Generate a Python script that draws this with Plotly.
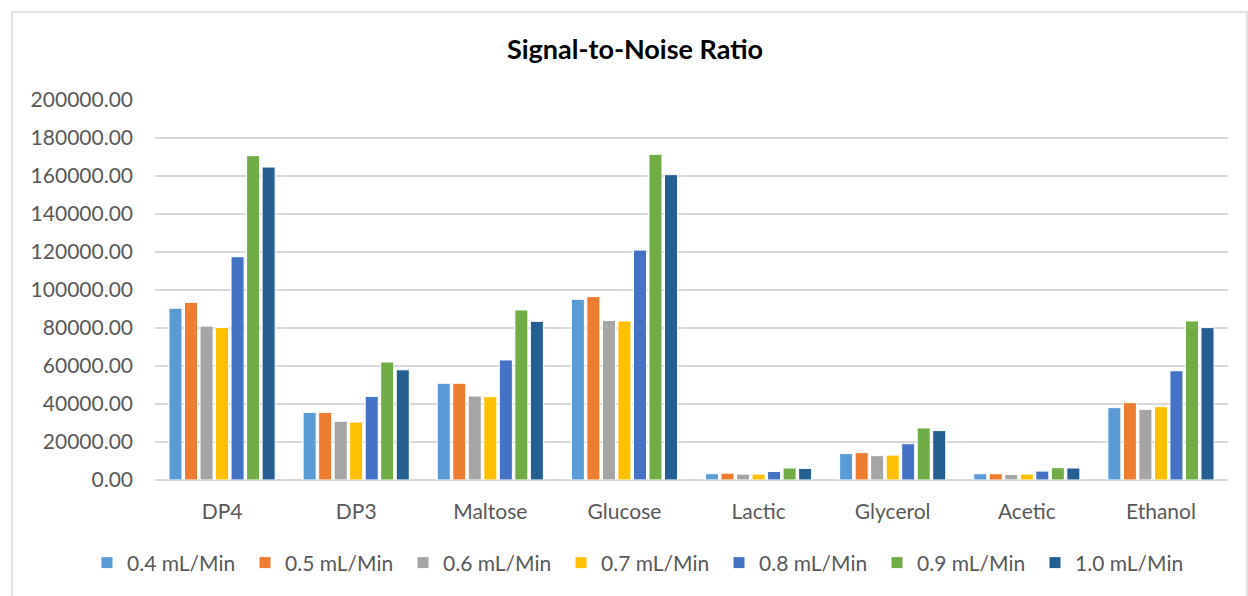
import plotly.graph_objects as go

# Compounds on the x axis
categories = ["DP4", "DP3", "Maltose", "Glucose", "Lactic", "Glycerol", "Acetic", "Ethanol"]

# Signal-to-noise ratio per flow rate
flow_04 = [90400, 35600, 50900, 95100, 3300, 13900, 3300, 38100]
flow_05 = [93500, 35600, 50900, 96500, 3600, 14400, 3300, 40700]
flow_06 = [81000, 30900, 44200, 84000, 3100, 12800, 2900, 37200]
flow_07 = [80300, 30500, 43900, 83700, 3100, 13100, 3100, 38600]
flow_08 = [117500, 44000, 63200, 121000, 4500, 19100, 4700, 57500]
flow_09 = [170700, 62100, 89500, 171400, 6300, 27400, 6500, 83700]
flow_10 = [164700, 58000, 83500, 160700, 6100, 26000, 6300, 80200]

series_names = ["0.4 mL/Min", "0.5 mL/Min", "0.6 mL/Min", "0.7 mL/Min",
                "0.8 mL/Min", "0.9 mL/Min", "1.0 mL/Min"]
series_values = [flow_04, flow_05, flow_06, flow_07, flow_08, flow_09, flow_10]
colors = ["#5B9BD5", "#ED7D31", "#A5A5A5", "#FFC000", "#4472C4", "#70AD47", "#255E91"]

FONT = "Lato"
TEXT = "#595959"

fig = go.Figure()
for name, vals, col in zip(series_names, series_values, colors):
    fig.add_trace(go.Bar(
        x=categories, y=vals, name=name,
        marker=dict(color=col, line=dict(color="white", width=1)),
    ))

W, H = 1248, 596
L, R, T, B = 155, 20, 100, 116
pw, ph = W - L - R, H - T - B

def px_x(p):
    return (p - L) / pw

def px_y(p):
    return (H - B - p) / ph

fig.update_layout(
    width=W, height=H,
    margin=dict(l=L, r=R, t=T, b=B),
    paper_bgcolor="white", plot_bgcolor="white",
    barmode="group", bargap=0.19, bargroupgap=0.16,
    font=dict(family=FONT, color=TEXT, size=19),
    title=dict(text="<b>Signal-to-Noise Ratio</b>", x=635 / W, xanchor="center",
               y=1 - 50 / H, yanchor="middle",
               font=dict(family=FONT, size=27, color="black")),
    xaxis=dict(showgrid=False, showline=False, ticks="", ticklabelstandoff=17,
               tickfont=dict(size=21, color=TEXT)),
    yaxis=dict(range=[0, 200000], dtick=20000, tickformat=".2f",
               showgrid=True, gridcolor="#D9D9D9", gridwidth=1.5,
               zeroline=True, zerolinecolor="#D9D9D9", zerolinewidth=1.5,
               showline=False, ticks="", ticklabelstandoff=21,
               tickfont=dict(size=21, color=TEXT)),
    legend=dict(orientation="h", x=px_x(87), xanchor="left",
                y=px_y(563), yanchor="middle",
                entrywidth=113, entrywidthmode="pixels",
                itemwidth=30, font=dict(size=21, color=TEXT)),
    shapes=[dict(type="rect", xref="paper", yref="paper",
                 x0=px_x(12), x1=px_x(1247), y0=px_y(620), y1=px_y(12),
                 line=dict(color="#D9D9D9", width=1.5), layer="below")],
)

fig.write_html("out.html")
